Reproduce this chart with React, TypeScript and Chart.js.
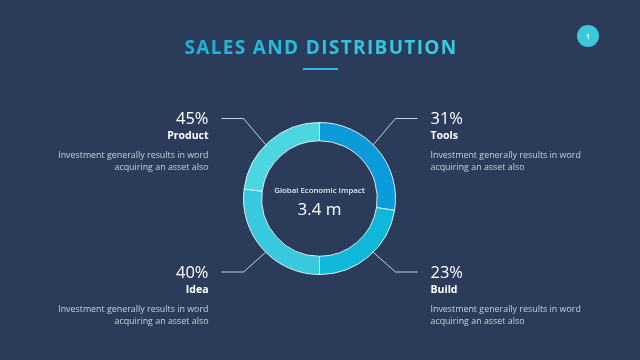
import { useEffect, useRef } from "react";
import { Chart, registerables } from "chart.js";

Chart.register(...registerables);

const categories = ["Tools", "Build", "Idea", "Product"];
const percentLabels = ["31%", "23%", "40%", "45%"];
const segmentShares = [27.5, 22.5, 27, 23];
const segmentColors = ["#0B9BDA", "#0FB8D8", "#38C9DE", "#4BD6E0"];
const descLines = ["Investment generally results in word", "acquiring an asset also"];
const title = "SALES AND DISTRIBUTION";
const centerCaption = "Global Economic Impact";
const centerValue = "3.4 m";
const pageNumber = "1";

const BG = "#2B3C5A";
const FONT = "'Open Sans', 'Noto Sans', sans-serif";

const decorPlugin = {
  id: "decor",
  beforeDraw(chart: any) {
    const ctx = chart.ctx;
    ctx.save();
    ctx.fillStyle = BG;
    ctx.fillRect(0, 0, chart.width, chart.height);
    ctx.restore();
  },
  afterDraw(chart: any) {
    const ctx: CanvasRenderingContext2D = chart.ctx;
    const meta = chart.getDatasetMeta(0);
    const a0: any = meta.data[0];
    const cx = a0.x;
    const cy = a0.y;
    const R = a0.outerRadius;
    const W = chart.width;

    ctx.save();
    // title
    ctx.textAlign = "center";
    ctx.textBaseline = "middle";
    ctx.font = `bold 19px ${FONT}`;
    (ctx as any).letterSpacing = "1.35px";
    const grad = ctx.createLinearGradient(185, 0, 457, 0);
    grad.addColorStop(0, "#1DB0D6");
    grad.addColorStop(1, "#3ECDE0");
    ctx.fillStyle = grad;
    ctx.fillText(title, W / 2 + 1, 48.5);
    (ctx as any).letterSpacing = "0px";
    ctx.fillStyle = "#27B8DA";
    ctx.fillRect(W / 2 - 17, 68, 35, 2);

    // badge
    ctx.beginPath();
    ctx.arc(588, 36, 11, 0, Math.PI * 2);
    ctx.fillStyle = "#3CC8DC";
    ctx.fill();
    ctx.fillStyle = "#FFFFFF";
    ctx.font = `bold 7px ${FONT}`;
    ctx.fillText(pageNumber, 588, 36.5);

    // center text
    ctx.fillStyle = "#E2E8F0";
    ctx.font = `600 7.8px ${FONT}`;
    ctx.fillText(centerCaption, cx, cy - 7.5);
    ctx.fillStyle = "#FFFFFF";
    ctx.font = `17px ${FONT}`;
    ctx.fillText(centerValue, cx, cy + 12);

    // leaders and labels
    meta.data.forEach((arc: any, i: number) => {
      const mid = (arc.startAngle + arc.endAngle) / 2;
      const sx = Math.cos(mid) >= 0 ? 1 : -1;
      const sy = Math.sin(mid) >= 0 ? 1 : -1;
      const k = Math.SQRT1_2;
      const startX = cx + sx * R * k;
      const startY = cy + sy * R * k;
      const rowY = sy < 0 ? cy - 80 : cy + 73.5;
      const elbowX = cx + sx * 76;
      const endX = cx + sx * 98;
      ctx.strokeStyle = "#C9D1DC";
      ctx.lineWidth = 1;
      ctx.beginPath();
      ctx.moveTo(startX, startY);
      ctx.lineTo(elbowX, rowY);
      ctx.lineTo(endX, rowY);
      ctx.stroke();

      const tx = cx + sx * 111;
      ctx.textAlign = sx < 0 ? "right" : "left";
      ctx.textBaseline = "middle";
      ctx.fillStyle = "#FFFFFF";
      ctx.font = `16.5px ${FONT}`;
      ctx.fillText(percentLabels[i], tx, rowY + 1);
      ctx.font = `bold 10.5px ${FONT}`;
      ctx.fillText(categories[i], tx, rowY + 18);
      ctx.fillStyle = "#C6CEDA";
      ctx.font = `8.9px ${FONT}`;
      ctx.fillText(descLines[0], tx, rowY + 37);
      ctx.fillText(descLines[1], tx, rowY + 49);
    });
    ctx.restore();
  },
};

export default function App() {
  const ref = useRef<HTMLCanvasElement | null>(null);
  useEffect(() => {
    if (!ref.current) return;
    const chart = new Chart(ref.current, {
      type: "doughnut",
      data: {
        labels: categories,
        datasets: [
          {
            data: segmentShares,
            backgroundColor: segmentColors,
            borderColor: "#D8EEF5",
            borderWidth: 1,
          },
        ],
      },
      options: {
        animation: false,
        responsive: false,
        maintainAspectRatio: false,
        devicePixelRatio: 1,
        cutout: "76%",
        layout: { padding: { top: 122, bottom: 85, left: 0, right: 1 } },
        plugins: {
          legend: { display: false },
          tooltip: { enabled: false },
          title: { display: false },
        },
      },
      plugins: [decorPlugin],
    });
    return () => chart.destroy();
  }, []);
  return (
    <div style={{ position: "absolute", left: 0, top: 0, width: 640, height: 360, background: BG }}>
      <canvas ref={ref} width={640} height={360} style={{ width: 640, height: 360, display: "block" }} />
    </div>
  );
}
